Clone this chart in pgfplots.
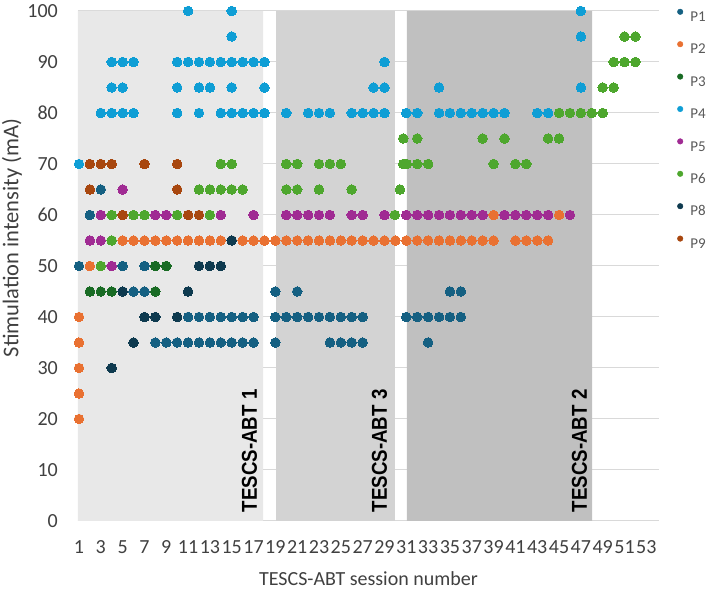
\documentclass[border=0pt]{standalone}
\usepackage{fontspec}
\setmainfont{Carlito}
\newfontfamily\abtfont[FakeStretch=0.87]{Liberation Sans}
\usepackage{pgfplots}
\pgfplotsset{compat=1.18}
\definecolor{cP1}{HTML}{156082}
\definecolor{cP2}{HTML}{E97132}
\definecolor{cP3}{HTML}{196B24}
\definecolor{cP4}{HTML}{0F9ED5}
\definecolor{cP5}{HTML}{A02B93}
\definecolor{cP6}{HTML}{4EA72E}
\definecolor{cP8}{HTML}{0E3A4F}
\definecolor{cP9}{HTML}{A8470F}
\definecolor{gA}{HTML}{E8E8E8}
\definecolor{gB}{HTML}{D3D3D3}
\definecolor{gC}{HTML}{C0C0C0}
\definecolor{gridc}{HTML}{D9D9D9}
\definecolor{txt}{HTML}{404040}
\definecolor{legtxt}{HTML}{595959}
\pgfplotsset{pt/.style={only marks, mark=*, mark size=4.8pt, color=#1,
   mark options={draw=#1, fill=#1, line width=0pt},
   legend image code/.code={\fill[#1] (0pt,4.8pt) circle (2.8pt);}}}
\begin{document}
\begin{tikzpicture}
\begin{axis}[
  scale only axis, width=581pt, height=510pt,
  xmin=0.91, xmax=54.16, ymin=0, ymax=100,
  axis x line=bottom, axis y line=left,
  x axis line style={draw=gridc, line width=1pt, -},
  y axis line style={draw=none, -},
  major tick length=0pt, tick style={draw=none},
  xtick={1,3,...,53}, ytick={0,10,...,100},
  ymajorgrids, grid style={draw=gridc, line width=1pt},
  /pgf/number format/assume math mode=true,
  tick label style={font=\fontsize{20}{20}\selectfont, text=txt},
  xticklabel style={anchor=north, inner sep=0pt, yshift=-19pt},
  yticklabel style={anchor=east, inner sep=0pt, xshift=-20pt},
  xlabel={TESCS-ABT session number},
  ylabel={Stimulation intensity (mA)},
  every axis x label/.style={at={(axis description cs:0.5,-0.098)}, anchor=north, inner sep=0pt, font=\fontsize{20}{20}\selectfont, text=txt},
  every axis y label/.style={at={(axis description cs:-0.1136,0.555)}, rotate=90, anchor=center, inner sep=0pt, font=\fontsize{22.5}{22.5}\selectfont, text=txt},
  legend style={at={(1,1)}, anchor=north west, xshift=18.2pt, yshift=2.2pt, draw=none, fill=none, inner sep=0pt, outer sep=0pt, row sep=19.6pt, column sep=7.2pt, font=\fontsize{15}{15}\selectfont, text=legtxt, nodes={inner sep=0pt, text height=10pt, text depth=0pt}},
  legend cell align=left,
]
% shaded phases
\addplot[draw=none, fill=gA, forget plot] coordinates {(0.91,0) (17.87,0) (17.87,100) (0.91,100) (0.91,0)};
\addplot[draw=none, fill=gB, forget plot] coordinates {(19.06,0) (29.96,0) (29.96,100) (19.06,100) (19.06,0)};
\addplot[draw=none, fill=gC, forget plot] coordinates {(31.06,0) (48.02,0) (48.02,100) (31.06,100) (31.06,0)};
% P1
\addplot[pt=cP1] coordinates {
(1,50) (2,60) (3,65) (5,50) (6,45) (7,50) (7,45)
(8,35) (9,35) (10,35) (11,35) (12,35) (13,35) (14,35) (15,35) (16,35) (17,35)
(11,40) (12,40) (13,40) (14,40) (15,40) (16,40) (17,40)
(19,45) (19,40) (19,35)
(20,40) (21,40) (22,40) (23,40) (24,40) (25,40) (26,40) (27,40)
(21,45) (24,35) (25,35) (26,35) (27,35)
(31,40) (32,40) (33,40) (34,40) (35,40) (36,40)
(33,35) (35,45) (36,45)};
% P2
\addplot[pt=cP2] coordinates {
(1,40) (1,35) (1,30) (1,25) (1,20) (2,50)
(5,55) (6,55) (7,55) (8,55) (9,55) (10,55) (11,55) (12,55) (13,55) (14,55) (15,55)
(16,55) (17,55) (18,55) (19,55) (20,55) (21,55) (22,55) (23,55) (24,55) (25,55)
(26,55) (27,55) (28,55) (29,55) (30,55) (31,55) (32,55) (33,55) (34,55) (35,55)
(36,55) (37,55) (38,55) (39,55) (39,60)
(41,55) (42,55) (43,55) (44,55) (45,60)};
% P3
\addplot[pt=cP3] coordinates {(2,45) (3,45) (4,45) (8,50) (8,45) (9,50)};
% P4
\addplot[pt=cP4] coordinates {
(1,70) (3,80)
(4,90) (4,85) (4,80) (5,90) (5,85) (5,80) (6,90) (6,80)
(10,90) (10,85) (10,80) (11,100) (11,90)
(12,90) (12,85) (12,80) (13,90) (13,85) (14,90) (14,80)
(15,100) (15,95) (15,90) (15,85) (15,80)
(16,90) (16,80) (17,90) (17,80) (18,90) (18,85) (18,80)
(20,80) (22,80) (23,80) (24,80) (26,80) (27,80)
(28,85) (28,80) (29,90) (29,85) (29,80)
(31,80) (32,80) (34,85) (34,80)
(35,80) (36,80) (37,80) (38,80) (39,80) (40,80)
(43,80) (44,80) (47,100) (47,95) (47,85)};
% P5
\addplot[pt=cP5] coordinates {
(2,55) (3,60) (3,55) (4,50) (5,65) (8,60) (9,60) (14,60) (17,60)
(20,60) (21,60) (22,60) (23,60) (24,60) (26,60) (27,60) (29,60)
(31,60) (32,60) (33,60) (34,60) (35,60) (36,60) (37,60) (38,60)
(40,60) (41,60) (42,60) (43,60) (44,60) (46,60)};
% P6
\addplot[pt=cP6] coordinates {
(3,50) (4,60) (4,55) (6,60) (7,60) (10,60)
(12,65) (13,65) (13,60) (14,70) (14,65) (15,70) (15,65) (16,65)
(20,70) (20,65) (21,70) (21,65) (23,70) (23,65) (24,70) (25,70) (26,65)
(29.96,60) (30.42,65) (30.72,70) (30.72,75) (31.04,70) (32,75) (32,70) (33,70)
(38,75) (39,70) (40,75) (41,70) (42,70) (44,75) (45,75) (45,80)
(46,80) (47,80) (48,80) (49,80) (49,85) (50,85) (50,90)
(51,90) (51,95) (52,90) (52,95)};
% P8
\addplot[pt=cP8] coordinates {
(4,30) (5,45) (6,35) (7,40) (8,40) (10,40) (11,45) (12,50) (13,50) (14,50) (15,55)};
% P9
\addplot[pt=cP9] coordinates {
(2,70) (2,65) (3,70) (4,70) (5,60) (7,70) (10,70) (10,65) (11,60) (12,60)};
\legend{P1,P2,P3,P4,P5,P6,P8,P9}
\node[rotate=90, anchor=base west, inner sep=0pt, font=\abtfont\bfseries\fontsize{21.5}{21.5}\selectfont] at (axis cs:17.3,1.7) {TESCS-ABT 1};
\node[rotate=90, anchor=base west, inner sep=0pt, font=\abtfont\bfseries\fontsize{21.5}{21.5}\selectfont] at (axis cs:29.23,1.7) {TESCS-ABT 3};
\node[rotate=90, anchor=base west, inner sep=0pt, font=\abtfont\bfseries\fontsize{21.5}{21.5}\selectfont] at (axis cs:47.56,1.7) {TESCS-ABT 2};
\end{axis}
\pgfresetboundingbox
\path[use as bounding box] ([shift={(-78pt,-69pt)}]current axis.south west) rectangle ([shift={(50pt,11pt)}]current axis.north east);
\end{tikzpicture}
\end{document}
